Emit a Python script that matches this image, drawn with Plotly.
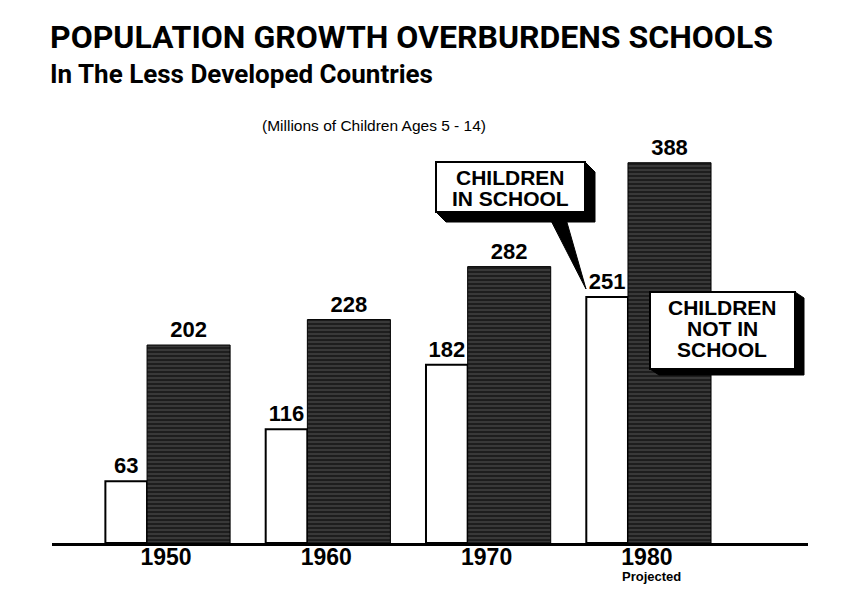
import plotly.graph_objects as go

# ---- data ----
years = [1950, 1960, 1970, 1980]
tick_labels = ["1950", "1960", "1970", "1980"]
in_school = [63, 116, 182, 251]
not_in_school = [202, 228, 282, 388]

title = "POPULATION GROWTH OVERBURDENS SCHOOLS"
subtitle = "In The Less Developed Countries"
units_note = "(Millions of Children Ages 5 - 14)"
callout_in = ["CHILDREN", "IN SCHOOL"]
callout_not = ["CHILDREN", "NOT IN", "SCHOOL"]
projected_note = "Projected"

# ---- layout geometry (pixels, in screenshot coordinates) ----
OFF = 8  # page body margin
WIDTH, HEIGHT = 845 - OFF, 593 - OFF
PLOT_X0, PLOT_X1 = 52, 808
PLOT_Y0, PLOT_Y1 = 140, 543
L = PLOT_X0 - OFF
R = WIDTH - (PLOT_X1 - OFF)
T = PLOT_Y0 - OFF
Bm = HEIGHT - (PLOT_Y1 - OFF)
W = PLOT_X1 - PLOT_X0
H = PLOT_Y1 - PLOT_Y0


def px(x):
    return (x - PLOT_X0) / W


def py(y):
    return (PLOT_Y1 - y) / H


BOLD = "Liberation Sans, Arial, Helvetica, sans-serif"
HEAD = "Roboto, Liberation Sans, Arial, sans-serif"

fig = go.Figure()
fig.add_trace(go.Bar(
    x=years, y=in_school, width=2.6, offset=-3.78,
    marker=dict(color="white", line=dict(color="black", width=2)),
    text=[str(v) for v in in_school], textposition="outside",
    textfont=dict(family=BOLD, size=22, color="black", weight="bold"),
    constraintext="none", cliponaxis=False, showlegend=False,
))
fig.add_trace(go.Bar(
    x=years, y=not_in_school, width=5.18, offset=-1.18,
    marker=dict(color="#1e1e1e", line=dict(color="black", width=1),
                pattern=dict(shape="-", fgcolor="#8a8a8a", size=4,
                             solidity=0.25, fillmode="overlay")),
    text=[str(v) for v in not_in_school], textposition="outside",
    textfont=dict(family=BOLD, size=22, color="black", weight="bold"),
    constraintext="none", cliponaxis=False, showlegend=False,
))

shapes = []


def callout(x0, y0, x1, y1, dx, dy):
    # extruded shadow
    path = (f"M {px(x1)},{py(y0)} L {px(x1+dx)},{py(y0+dy)} "
            f"L {px(x1+dx)},{py(y1+dy)} L {px(x0+dx)},{py(y1+dy)} "
            f"L {px(x0)},{py(y1)} L {px(x1)},{py(y1)} Z")
    shapes.append(dict(type="path", xref="paper", yref="paper", path=path,
                       fillcolor="black", line=dict(color="black", width=1),
                       layer="above"))
    shapes.append(dict(type="rect", xref="paper", yref="paper",
                       x0=px(x0), x1=px(x1), y0=py(y0), y1=py(y1),
                       fillcolor="white", line=dict(color="black", width=2),
                       layer="above"))


# pointer of "children in school" callout
shapes.append(dict(type="path", xref="paper", yref="paper",
                   path=f"M {px(543)},{py(205)} L {px(562)},{py(205)} L {px(586)},{py(289)} Z",
                   fillcolor="black", line=dict(color="black", width=1), layer="above"))
callout(436, 162, 585, 212, 10, 10)
callout(650, 292, 795, 369, 9, 6)

annotations = [
    dict(text=f"<b>{title}</b>", x=px(48), y=py(37), xanchor="left", yanchor="middle",
         font=dict(family=HEAD, size=32, color="black")),
    dict(text=f"<b>{subtitle}</b>", x=px(48), y=py(74), xanchor="left", yanchor="middle",
         font=dict(family=HEAD, size=26, color="black")),
    dict(text=units_note, x=px(374), y=py(125), xanchor="center", yanchor="middle",
         font=dict(family=BOLD, size=15.5, color="black")),
    dict(text=f"<b>{projected_note}</b>", x=px(651), y=py(576), xanchor="center",
         yanchor="middle", font=dict(family=BOLD, size=13, color="black")),
]
for i, line in enumerate(callout_in):
    annotations.append(dict(text=f"<b>{line}</b>", x=px(510), y=py(177 + 21 * i),
                            xanchor="center", yanchor="middle",
                            font=dict(family=BOLD, size=21, color="black")))
for i, line in enumerate(callout_not):
    annotations.append(dict(text=f"<b>{line}</b>", x=px(722), y=py(307 + 21 * i),
                            xanchor="center", yanchor="middle",
                            font=dict(family=BOLD, size=21, color="black")))
for a in annotations:
    a.update(xref="paper", yref="paper", showarrow=False)

fig.update_layout(
    width=WIDTH, height=HEIGHT,
    margin=dict(l=L, r=R, t=T, b=Bm, pad=0),
    paper_bgcolor="white", plot_bgcolor="white",
    barmode="overlay", showlegend=False,
    shapes=shapes, annotations=annotations,
    xaxis=dict(range=[1942.89, 1990.05], tickvals=years, ticktext=tick_labels,
               showgrid=False, zeroline=False, showline=True, linewidth=3,
               linecolor="black", ticks="", ticklabelstandoff=-9,
               tickfont=dict(family=BOLD, size=23, color="black", weight="bold")),
    yaxis=dict(range=[0, 411.2], showgrid=False, zeroline=False,
               showticklabels=False, showline=False),
)

fig.write_html("out.html")
